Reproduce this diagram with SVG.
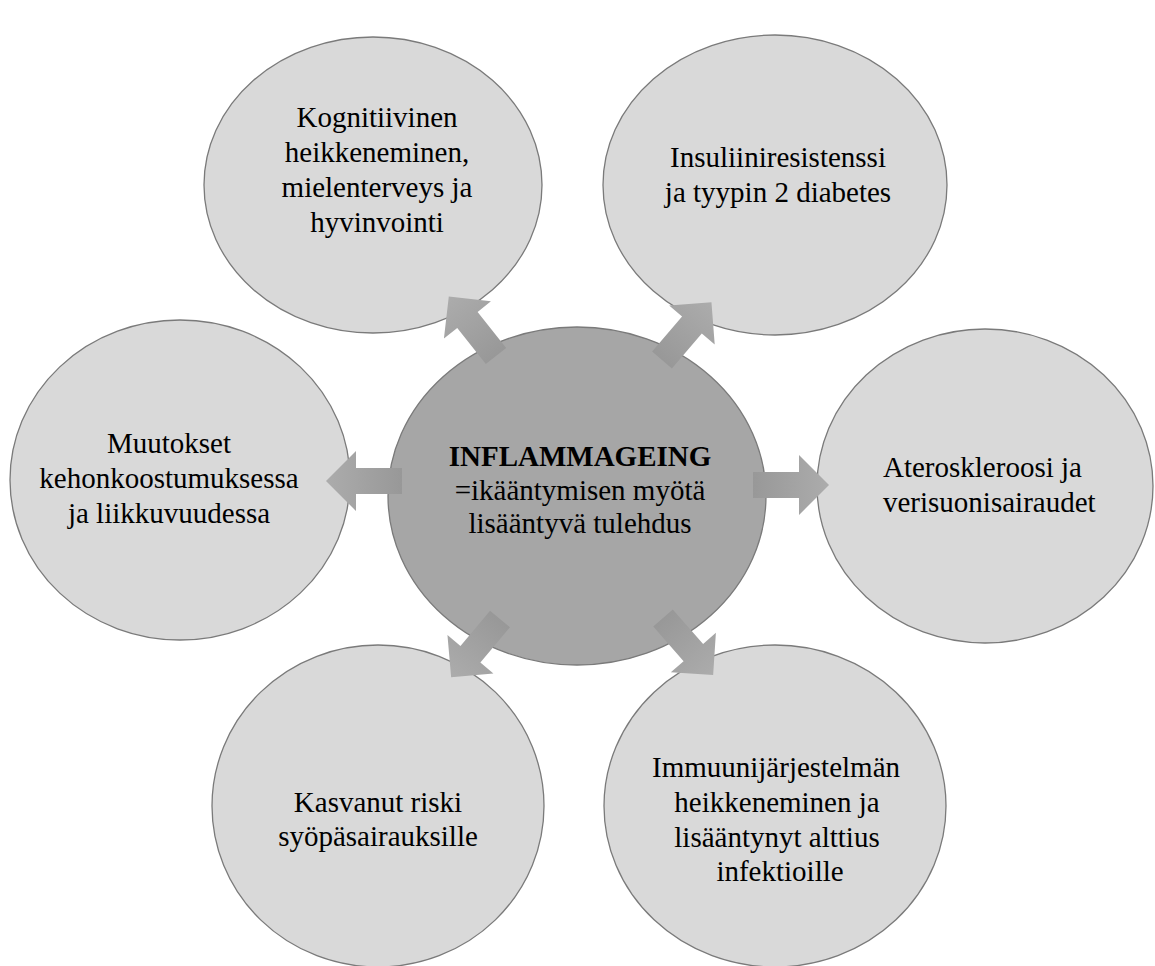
<svg xmlns="http://www.w3.org/2000/svg" width="1155" height="966" viewBox="0 0 1155 966">
<defs>
<linearGradient id="ag" x1="0" y1="0" x2="1" y2="0">
<stop offset="0" stop-color="#989898"/>
<stop offset="1" stop-color="#acacac"/>
</linearGradient>
<path id="arrow" d="M0,-13 L46,-13 L46,-30 L76,0 L46,30 L46,13 L0,13 Z"/>
</defs>
<style>
.outer{fill:#d9d9d9;stroke:#7a7a7a;stroke-width:1.3}
.center{fill:#a6a6a6;stroke:#7a7a7a;stroke-width:1.3}
text{font-family:"Liberation Serif","Times New Roman",serif;font-size:29px;fill:#000;text-anchor:middle}
.b{font-weight:bold}
.arr{fill:url(#ag)}
</style>
<rect width="1155" height="966" fill="#fff"/>
<g id="node-kognitiivinen">
<ellipse class="outer" cx="373" cy="185" rx="169" ry="148"/>
<text x="377" y="127">Kognitiivinen</text>
<text x="377" y="162">heikkeneminen,</text>
<text x="377" y="197">mielenterveys ja</text>
<text x="377" y="232">hyvinvointi</text>
</g>
<g id="node-insuliini">
<ellipse class="outer" cx="775" cy="185" rx="172" ry="150"/>
<text x="778" y="167">Insuliiniresistenssi</text>
<text x="778" y="202">ja tyypin 2 diabetes</text>
</g>
<g id="node-muutokset">
<ellipse class="outer" cx="180" cy="480" rx="170" ry="160"/>
<text x="169" y="453">Muutokset</text>
<text x="169" y="488">kehonkoostumuksessa</text>
<text x="169" y="523">ja liikkuvuudessa</text>
</g>
<g id="node-ateroskleroosi">
<ellipse class="outer" cx="985" cy="486" rx="168" ry="157"/>
<text x="883" y="477" style="text-anchor:start">Ateroskleroosi ja</text>
<text x="883" y="512" style="text-anchor:start">verisuonisairaudet</text>
</g>
<g id="node-kasvanut">
<ellipse class="outer" cx="378" cy="806" rx="166" ry="161"/>
<text x="378" y="812">Kasvanut riski</text>
<text x="378" y="846">syöpäsairauksille</text>
</g>
<g id="node-immuuni">
<ellipse class="outer" cx="775" cy="806" rx="171" ry="161"/>
<text x="776" y="777">Immuunijärjestelmän</text>
<text x="777" y="812">heikkeneminen ja</text>
<text x="777" y="847">lisääntynyt alttius</text>
<text x="780" y="881">infektioille</text>
</g>
<g id="node-inflammageing">
<ellipse class="center" cx="577" cy="496" rx="189" ry="169"/>
<text x="580" y="466" class="b">INFLAMMAGEING</text>
<text x="580" y="500">=ikääntymisen myötä</text>
<text x="580" y="533">lisääntyvä tulehdus</text>
</g>
<g id="connectors">
<use href="#arrow" class="arr" transform="translate(496,356) rotate(-128.4)"/>
<use href="#arrow" class="arr" transform="translate(662,360) rotate(-49.4)"/>
<use href="#arrow" class="arr" transform="translate(402,481) rotate(180)"/>
<use href="#arrow" class="arr" transform="translate(753,485)"/>
<use href="#arrow" class="arr" transform="translate(500,619) rotate(130)"/>
<use href="#arrow" class="arr" transform="translate(663,618) rotate(48.7)"/>
</g>
</svg>
